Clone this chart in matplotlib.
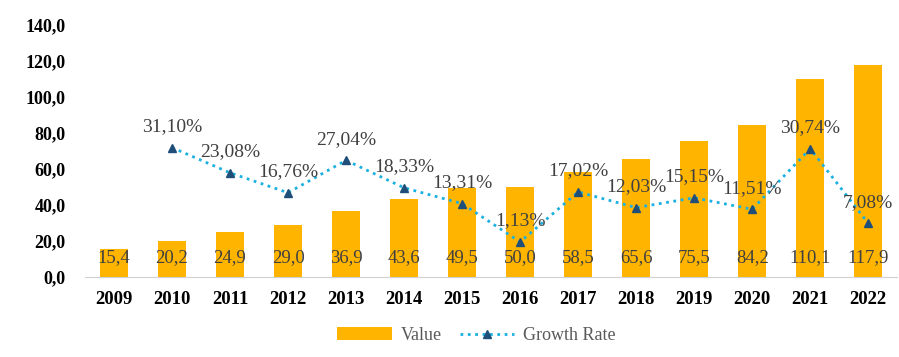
import matplotlib.pyplot as plt
import numpy as np

plt.rcParams['font.family'] = ['Liberation Serif', 'DejaVu Serif']

years = ['2009', '2010', '2011', '2012', '2013', '2014', '2015',
         '2016', '2017', '2018', '2019', '2020', '2021', '2022']
values = [15.4, 20.2, 24.9, 29.0, 36.9, 43.6, 49.5,
          50.0, 58.5, 65.6, 75.5, 84.2, 110.1, 117.9]
growth = [np.nan, 31.10, 23.08, 16.76, 27.04, 18.33, 13.31,
          1.13, 17.02, 12.03, 15.15, 11.51, 30.74, 7.08]

def fmt(v, d):
    return f"{v:.{d}f}".replace('.', ',')

x = np.arange(len(years))

fig = plt.figure(figsize=(8.99, 3.57), dpi=100)
ax = fig.add_axes([0.0945, 0.224, 0.9035, 0.706])

bars = ax.bar(x, values, width=0.48, color='#FFB400', label='Value', zorder=2)
ax.set_xlim(-0.5, len(years) - 0.5)
ax.set_ylim(0, 140)
ax.set_yticks(np.arange(0, 141, 20))
ax.set_yticklabels([fmt(v, 1) for v in np.arange(0, 141, 20)],
                   fontsize=13, fontweight='bold')
ax.set_xticks(x)
ax.set_xticklabels(years, fontsize=13.5, fontweight='bold')
ax.tick_params(axis='y', length=0, pad=14)
ax.tick_params(axis='x', length=0, pad=10)
for s in ['top', 'right', 'left']:
    ax.spines[s].set_visible(False)
ax.spines['bottom'].set_color('#d0d0d0')

for xi, v in zip(x, values):
    ax.text(xi, 11, fmt(v, 1), ha='center', va='center',
            fontsize=13.5, color='#404040', zorder=4)

ax2 = ax.twinx()
ax2.set_ylim(-10, 70)
ax2.axis('off')
line, = ax2.plot(x, growth, linestyle=':', color='#1AB0E0', linewidth=2,
                 marker='^', markersize=6, markerfacecolor='#1F4E79',
                 markeredgecolor='#1F4E79', label='Growth Rate', zorder=3)
for xi, g in zip(x, growth):
    if np.isnan(g):
        continue
    ax2.annotate(fmt(g, 2) + '%', (xi, g), xytext=(0, 9),
                 textcoords='offset points', ha='center', va='bottom',
                 fontsize=14, color='#404040')

fig.legend([bars, line], ['Value', 'Growth Rate'], loc='center',
           bbox_to_anchor=(0.53, 0.06), ncol=2, frameon=False,
           fontsize=13, labelcolor='#595959', handlelength=3,
           handletextpad=0.5, columnspacing=1.0)

fig.savefig('out.png', dpi=100)
